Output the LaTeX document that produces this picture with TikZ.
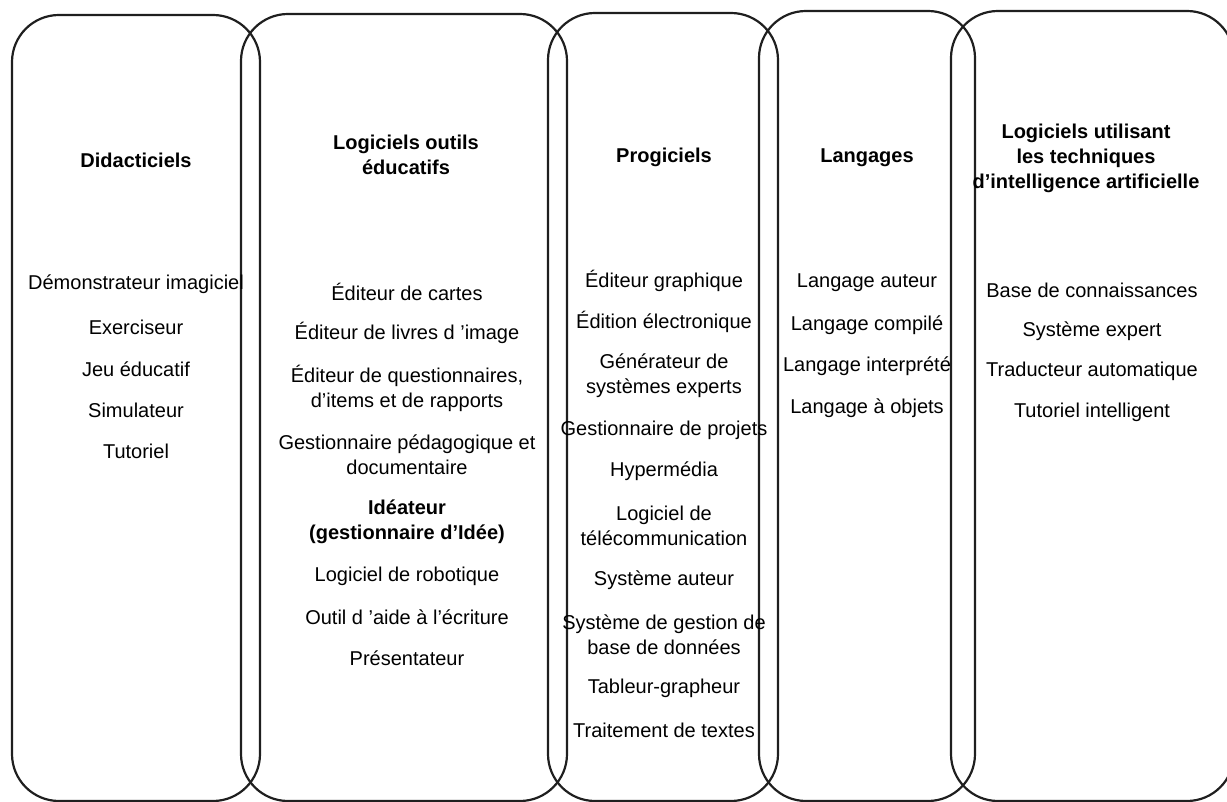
\documentclass[tikz,border=0pt]{standalone}
\usepackage{fontspec}
\setmainfont{Liberation Sans}
\begin{document}
\begin{tikzpicture}[x=1pt,y=-1pt,
  frame/.style={draw=black!88,line width=2.2pt,rounded corners=47pt},
  item/.style={inner sep=0pt,align=center,font=\fontsize{20}{25}\selectfont},
  head/.style={item,font=\fontsize{20}{25}\selectfont\bfseries}]
\useasboundingbox (0,0) rectangle (1227,802);
\clip (0,0) rectangle (1227,802);

% five overlapping rounded columns
\draw[frame] (12,15)  rectangle (260,801);
\draw[frame] (241,14) rectangle (567,801);
\draw[frame] (548,13) rectangle (778,801);
\draw[frame] (759,11) rectangle (975,801);
\draw[frame] (951,11) rectangle (1234,801);

% column 1
\node[head] (h1) at (136,160) {Didacticiels};
\node[item] (a1) at (136,284) {Démonstrateur imagiciel};
\node[item] (a2) at (136,327) {Exerciseur};
\node[item] (a3) at (136,369) {Jeu éducatif};
\node[item] (a4) at (136,410) {Simulateur};
\node[item] (a5) at (136,451) {Tutoriel};

% column 2
\node[head] (h2) at (406,155) {Logiciels outils\\éducatifs};
\node[item] (b1) at (407,292) {Éditeur de cartes};
\node[item] (b2) at (407,333) {Éditeur de livres d 'image};
\node[item] (b3) at (407,388) {Éditeur de questionnaires,\\d'items et de rapports};
\node[item] (b4) at (407,455) {Gestionnaire pédagogique et\\documentaire};
\node[head] (b5) at (407,522) {Idéateur\\(gestionnaire d'Idée)};
\node[item] (b6) at (407,576) {Logiciel de robotique};
\node[item] (b7) at (407,617) {Outil d 'aide à l'écriture};
\node[item] (b8) at (407,658) {Présentateur};

% column 3
\node[head] (h3) at (664,157) {Progiciels};
\node[item] (c1) at (664,281) {Éditeur graphique};
\node[item] (c2) at (664,322) {Édition électronique};
\node[item] (c3) at (664,376) {Générateur de\\systèmes experts};
\node[item] (c4) at (664,430) {Gestionnaire de projets};
\node[item] (c5) at (664,471) {Hypermédia};
\node[item] (c6) at (664,526) {Logiciel de\\télécommunication};
\node[item] (c7) at (664,580) {Système auteur};
\node[item] (c8) at (664,635) {Système de gestion de\\base de données};
\node[item] (c9) at (664,688) {Tableur-grapheur};
\node[item] (c10) at (664,730) {Traitement de textes};

% column 4
\node[head] (h4) at (867,158) {Langages};
\node[item] (d1) at (867,283) {Langage auteur};
\node[item] (d2) at (867,325) {Langage compilé};
\node[item] (d3) at (867,366) {Langage interprété};
\node[item] (d4) at (867,408) {Langage à objets};

% column 5
\node[head] (h5) at (1086,158) {Logiciels utilisant\\les techniques\\d'intelligence artificielle};
\node[item] (e1) at (1092,290) {Base de connaissances};
\node[item] (e2) at (1092,331) {Système expert};
\node[item] (e3) at (1092,371) {Traducteur automatique};
\node[item] (e4) at (1092,412) {Tutoriel intelligent};
\end{tikzpicture}
\end{document}
